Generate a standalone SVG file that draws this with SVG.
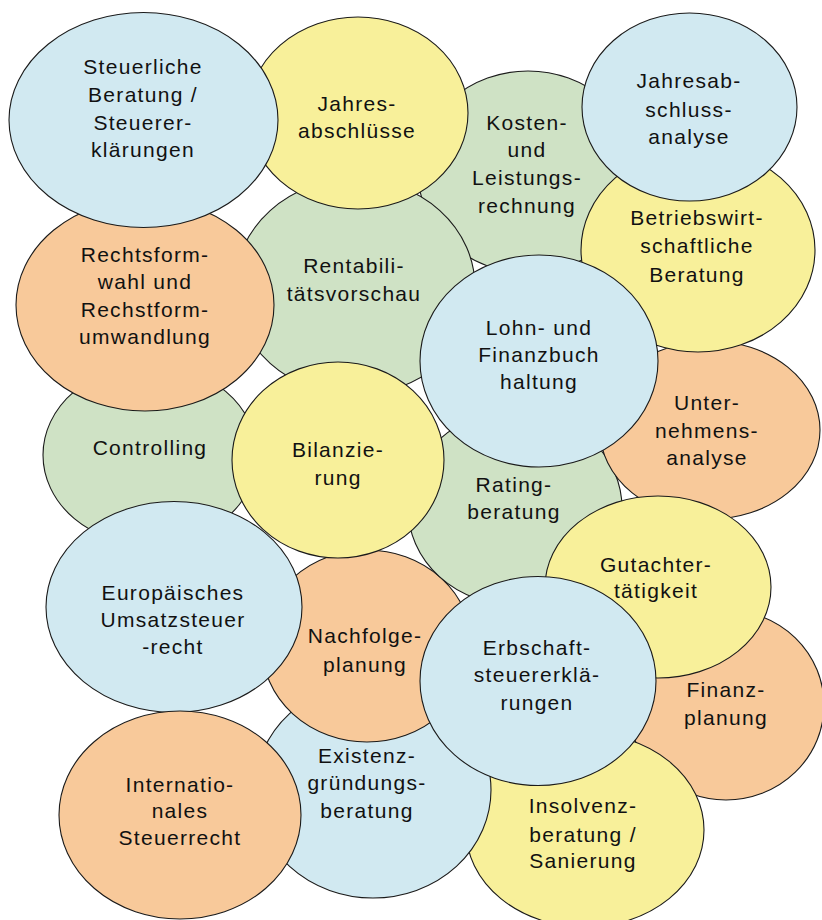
<svg xmlns="http://www.w3.org/2000/svg" width="822" height="920" viewBox="0 0 822 920">
<style>
ellipse{stroke:#1a1a1a;stroke-width:1.1}
.b{fill:#d1e9f1}.y{fill:#f8f09a}.g{fill:#cfe2c5}.o{fill:#f8c99a}
text{font-family:"Liberation Sans",Arial,sans-serif;font-size:21px;letter-spacing:1.3px;text-anchor:middle;fill:#111}
</style>
<rect width="822" height="920" fill="#fff"/>
<g id="connectors"/>
<g id="kosten"><ellipse class="g" cx="528" cy="172" rx="110" ry="101"/><text x="527" y="130">Kosten-</text><text x="527" y="157">und</text><text x="527" y="185">Leistungs-</text><text x="527" y="213">rechnung</text></g>
<g id="rentabilitaet"><ellipse class="g" cx="355" cy="287" rx="120" ry="108"/><text x="354" y="273">Rentabili-</text><text x="354" y="301">tätsvorschau</text></g>
<g id="controlling"><ellipse class="g" cx="150" cy="455" rx="107" ry="90"/><text x="150" y="455">Controlling</text></g>
<g id="finanzplanung"><ellipse class="o" cx="726" cy="705" rx="98" ry="95"/><text x="726" y="697">Finanz-</text><text x="726" y="725">planung</text></g>
<g id="insolvenz"><ellipse class="y" cx="585" cy="830" rx="119" ry="97"/><text x="583" y="813">Insolvenz-</text><text x="583" y="842">beratung /</text><text x="583" y="868">Sanierung</text></g>
<g id="existenz"><ellipse class="b" cx="373" cy="790" rx="118" ry="108"/><text x="367" y="763">Existenz-</text><text x="367" y="790">gründungs-</text><text x="367" y="818">beratung</text></g>
<g id="nachfolge"><ellipse class="o" cx="367" cy="646" rx="105" ry="96"/><text x="365" y="643">Nachfolge-</text><text x="365" y="672">planung</text></g>
<g id="rating"><ellipse class="g" cx="515" cy="508" rx="107" ry="97"/><text x="514" y="492">Rating-</text><text x="514" y="519">beratung</text></g>
<g id="unternehmensanalyse"><ellipse class="o" cx="710" cy="430" rx="110" ry="89"/><text x="707" y="410">Unter-</text><text x="707" y="438">nehmens-</text><text x="707" y="465">analyse</text></g>
<g id="jahresabschluesse"><ellipse class="y" cx="358" cy="113" rx="110" ry="96"/><text x="357" y="111">Jahres-</text><text x="357" y="138">abschlüsse</text></g>
<g id="betriebswirtschaft"><ellipse class="y" cx="698" cy="250" rx="117" ry="102"/><text x="697" y="225">Betriebswirt-</text><text x="697" y="253">schaftliche</text><text x="697" y="282">Beratung</text></g>
<g id="rechtsform"><ellipse class="o" cx="145" cy="305" rx="129" ry="106"/><text x="145" y="262">Rechtsform-</text><text x="145" y="289">wahl und</text><text x="145" y="317">Rechstform-</text><text x="145" y="344">umwandlung</text></g>
<g id="steuerliche"><ellipse class="b" cx="143.5" cy="120" rx="134.5" ry="107.5"/><text x="143" y="74">Steuerliche</text><text x="143" y="102">Beratung /</text><text x="143" y="130">Steuerer-</text><text x="143" y="157">klärungen</text></g>
<g id="jahresabschlussanalyse"><ellipse class="b" cx="689.5" cy="107" rx="107.5" ry="94"/><text x="689" y="88">Jahresab-</text><text x="689" y="117">schluss-</text><text x="689" y="144">analyse</text></g>
<g id="bilanzierung"><ellipse class="y" cx="338" cy="460" rx="106" ry="98"/><text x="338" y="457">Bilanzie-</text><text x="338" y="485">rung</text></g>
<g id="lohn"><ellipse class="b" cx="539" cy="361" rx="119" ry="106"/><text x="539" y="335">Lohn- und</text><text x="539" y="362">Finanzbuch</text><text x="539" y="389">haltung</text></g>
<g id="europaeisches"><ellipse class="b" cx="174" cy="607" rx="128" ry="105.5"/><text x="173" y="600">Europäisches</text><text x="173" y="627">Umsatzsteuer</text><text x="173" y="654">-recht</text></g>
<g id="internationales"><ellipse class="o" cx="180" cy="815" rx="121" ry="104"/><text x="180" y="792">Internatio-</text><text x="180" y="818">nales</text><text x="180" y="845">Steuerrecht</text></g>
<g id="gutachter"><ellipse class="y" cx="658" cy="587" rx="113" ry="91"/><text x="656" y="572">Gutachter-</text><text x="656" y="598">tätigkeit</text></g>
<g id="erbschaft"><ellipse class="b" cx="538" cy="681" rx="118" ry="104.5"/><text x="537" y="655">Erbschaft-</text><text x="537" y="682">steuererklä-</text><text x="537" y="710">rungen</text></g>
</svg>
